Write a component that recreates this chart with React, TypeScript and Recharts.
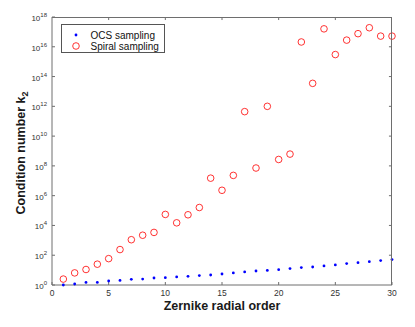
import { ScatterChart, Scatter, XAxis, YAxis, Legend, Label, ReferenceLine } from 'recharts';

// Zernike radial order (x)
const orders = [
  1, 2, 3, 4, 5, 6, 7, 8, 9, 10, 11, 12, 13, 14, 15,
  16, 17, 18, 19, 20, 21, 22, 23, 24, 25, 26, 27, 28, 29, 30,
];

// condition number k2, OCS sampling
const ocsValues = [
  1.0, 1.17, 1.5, 1.5, 1.86, 2.04, 2.4, 2.5, 2.95, 3.1,
  3.5, 3.8, 4.3, 4.7, 5.5, 6.5, 7.6, 8.7, 9.5, 10.7,
  12.6, 14.8, 16.2, 19, 22.4, 27.5, 31.6, 37, 44, 51,
];

// condition number k2, spiral sampling
const spiralValues = [
  2.5, 6.5, 11, 25, 59, 240, 1100, 2200, 3400, 5.5e4,
  1.5e4, 5.2e4, 1.6e5, 1.5e7, 2.3e6, 2.3e7, 4.4e11, 7.2e7, 1.0e12, 2.7e8,
  6.2e8, 2.1e16, 3.5e13, 1.6e17, 3.0e15, 2.8e16, 7.6e16, 1.9e17, 5.2e16, 5.2e16,
];

const xTicks = [0, 5, 10, 15, 20, 25, 30];
const yTicks = [1, 1e2, 1e4, 1e6, 1e8, 1e10, 1e12, 1e14, 1e16, 1e18];

const ocsData = orders.map((n, i) => ({ order: n, k: ocsValues[i] }));
const spiralData = orders.map((n, i) => ({ order: n, k: spiralValues[i] }));

const X_MAX = 30;
const Y_MAX = 1e18;

const W = 415;
const H = 327;
const MARGIN = { top: 17, right: 23, bottom: 12, left: 8 };
const Y_AXIS_W = 44;
const X_AXIS_H = 30;

const FONT = '"Liberation Sans", Arial, Helvetica, sans-serif';
const AXIS = '#6e6e6e';
const TICK_TEXT = '#333';

function YTick({ x, y, payload }: any) {
  const e = Math.round(Math.log10(payload.value));
  return (
    <text x={x} y={y} textAnchor="end" fill={TICK_TEXT} fontSize={8} fontFamily={FONT}>
      <tspan dy={4}>10</tspan>
      <tspan fontSize={6} dy={-4}>{e}</tspan>
    </text>
  );
}

function XTick({ x, y, payload }: any) {
  return (
    <text x={x} y={y} dy="0.71em" textAnchor="middle" fill={TICK_TEXT} fontSize={8.5} fontFamily={FONT}>
      {payload.value}
    </text>
  );
}

function OcsDot({ cx, cy }: any) {
  return <circle cx={cx} cy={cy} r={1.4} fill="#0000ff" />;
}

function SpiralRing({ cx, cy }: any) {
  return <circle cx={cx} cy={cy} r={3.3} fill="none" stroke="#ff0000" strokeWidth={0.8} />;
}

function LegendBox() {
  return (
    <svg width={104} height={29} style={{ display: 'block' }}>
      <rect x={0.5} y={0.5} width={103} height={28} fill="#fff" stroke="#555" strokeWidth={1} />
      <circle cx={15} cy={11} r={1.4} fill="#0000ff" />
      <circle cx={15} cy={22} r={3.3} fill="none" stroke="#ff0000" strokeWidth={0.8} />
      <text x={29.5} y={14.5} fontSize={10} fontFamily={FONT} fill="#111">OCS sampling</text>
      <text x={29.5} y={25.5} fontSize={10} fontFamily={FONT} fill="#111">Spiral sampling</text>
    </svg>
  );
}

export default function App() {
  const plotLeft = MARGIN.left + Y_AXIS_W;
  const plotW = W - MARGIN.right - plotLeft;
  const plotH = H - MARGIN.bottom - X_AXIS_H - MARGIN.top;
  return (
    <div style={{ position: 'absolute', left: 0, top: 0, width: W, height: H, background: '#fff' }}>
      <ScatterChart width={W} height={H} margin={MARGIN}>
        <XAxis
          xAxisId="bottom"
          dataKey="order"
          type="number"
          domain={[0, X_MAX]}
          ticks={xTicks}
          height={X_AXIS_H}
          stroke={AXIS}
          tickSize={-3}
          tickMargin={8}
          tick={<XTick />}
        >
          <Label
            content={({ viewBox }: any) => (
              <text
                x={viewBox.x + viewBox.width / 2}
                y={viewBox.y + 25}
                textAnchor="middle"
                fontSize={12.5}
                fontWeight="bold"
                fontFamily={FONT}
                fill="#1a1a1a"
              >
                Zernike radial order
              </text>
            )}
          />
        </XAxis>
        <YAxis
          yAxisId="left"
          dataKey="k"
          type="number"
          scale="log"
          domain={[1, Y_MAX]}
          ticks={yTicks}
          width={Y_AXIS_W}
          stroke={AXIS}
          tickSize={-3}
          tickMargin={8}
          tick={<YTick />}
        >
          <Label
            content={({ viewBox }: any) => {
              const cx = 25;
              const cy = viewBox.y + viewBox.height / 2 + 2;
              return (
                <text
                  x={cx}
                  y={cy}
                  transform={`rotate(-90 ${cx} ${cy})`}
                  textAnchor="middle"
                  fontSize={12.5}
                  fontWeight="bold"
                  fontFamily={FONT}
                  fill="#1a1a1a"
                >
                  Condition number k
                  <tspan fontSize={9} dy={3}>2</tspan>
                </text>
              );
            }}
          />
        </YAxis>

        {/* inward tick marks on the top and right edges */}
        {xTicks.slice(1, -1).map((t) => (
          <ReferenceLine
            key={`tx${t}`}
            xAxisId="bottom"
            yAxisId="left"
            stroke={AXIS}
            ifOverflow="visible"
            segment={[{ x: t, y: Y_MAX }, { x: t, y: Y_MAX / 1.6 }]}
          />
        ))}
        {yTicks.slice(1, -1).map((t) => (
          <ReferenceLine
            key={`ty${t}`}
            xAxisId="bottom"
            yAxisId="left"
            stroke={AXIS}
            ifOverflow="visible"
            segment={[{ x: X_MAX, y: t }, { x: X_MAX - 0.27, y: t }]}
          />
        ))}

        <Legend
          layout="vertical"
          align="center"
          verticalAlign="middle"
          content={() => <LegendBox />}
          wrapperStyle={{ left: 61, top: 24, width: 104, height: 29 }}
        />
        <Scatter
          name="OCS sampling"
          data={ocsData}
          xAxisId="bottom"
          yAxisId="left"
          shape={<OcsDot />}
          isAnimationActive={false}
        />
        <Scatter
          name="Spiral sampling"
          data={spiralData}
          xAxisId="bottom"
          yAxisId="left"
          shape={<SpiralRing />}
          isAnimationActive={false}
        />
      </ScatterChart>
      {/* top and right edges of the axes box */}
      <div
        style={{
          position: 'absolute',
          left: plotLeft,
          top: MARGIN.top,
          width: plotW,
          height: plotH,
          borderTop: `1px solid ${AXIS}`,
          borderRight: `1px solid ${AXIS}`,
          boxSizing: 'border-box',
          pointerEvents: 'none',
        }}
      />
    </div>
  );
}
